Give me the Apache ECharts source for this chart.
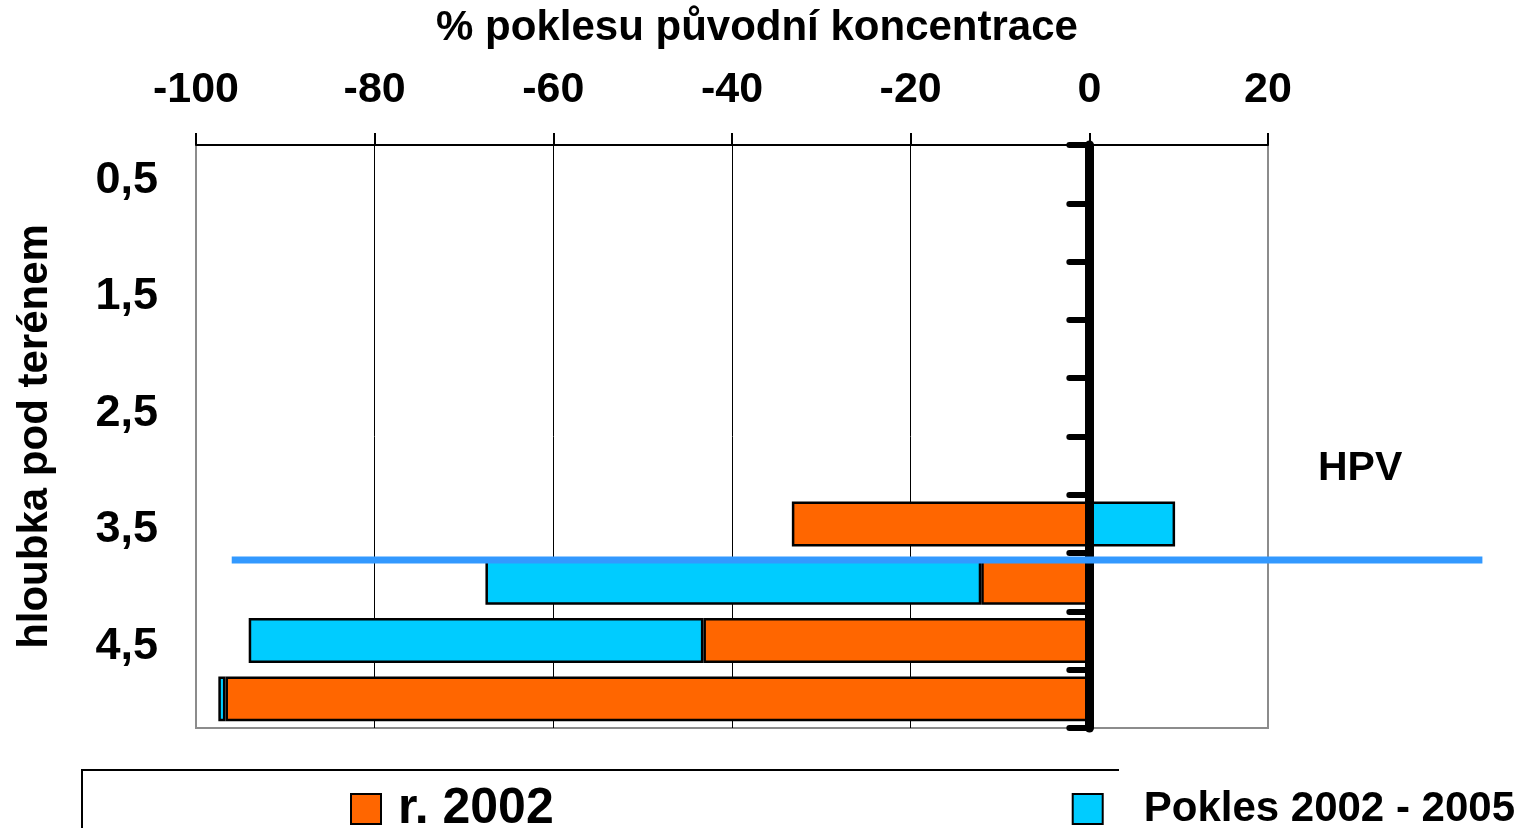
<!DOCTYPE html>
<html lang="cs">
<head>
    <meta charset="UTF-8">
    <title>Pokles koncentrace</title>
    <script src="https://cdn.jsdelivr.net/npm/echarts@6/dist/echarts.min.js"></script>
    <style>
        html, body { margin: 0; padding: 0; background: #fff; }
    </style>
</head>
<body>

<div id="main" style="width: 1532px;height:828px;"></div>
<script type="text/javascript">
    // hloubky (m) a hodnoty
    var depths = ['0,5', '1', '1,5', '2', '2,5', '3', '3,5', '4', '4,5', '5'];
    var r2002 = [null, null, null, null, null, null, -33.3, -12.1, -43.2, -96.7];
    var pokles = [null, null, null, null, null, null, 9.6, -55.5, -50.9, -0.8];
    var xMin = -100, xMax = 20, xStep = 20;
    // hladina podzemní vody
    var hpvDepth = 3.8, hpvFrom = -96, hpvTo = 44;

    var font = 'Liberation Sans, Arial, sans-serif';

    var option = {
        animation: false,
        grid: {
            left: 196, right: 264, top: 145, bottom: 100,
            show: true, borderColor: '#8c8c8c', borderWidth: 2
        },
        legend: {
            left: 345, top: 779,
            itemGap: 518,
            itemWidth: 30, itemHeight: 30,
            icon: 'rect',
            data: [
                {name: 'r. 2002', textStyle: {fontSize: 50, padding: [0, 0, 0, 12]}},
                {name: 'Pokles 2002 - 2005', textStyle: {fontSize: 42, padding: [0, 0, 0, 36]}}
            ],
            textStyle: {fontFamily: font, fontWeight: 'bold', color: '#000'}
        },
        xAxis: {
            type: 'value',
            position: 'top',
            min: xMin, max: xMax, interval: xStep,
            name: '% poklesu původní koncentrace',
            nameLocation: 'middle',
            nameGap: 96,
            nameTextStyle: {fontFamily: font, fontWeight: 'bold', fontSize: 42, color: '#000', padding: [0, 0, 0, 50]},
            axisLine: {show: true, onZero: false, lineStyle: {color: '#000', width: 2}},
            axisTick: {show: true, length: 12, lineStyle: {color: '#000', width: 2}},
            axisLabel: {fontFamily: font, fontWeight: 'bold', fontSize: 43, color: '#000', margin: 33},
            splitLine: {
                show: true,
                lineStyle: {color: ['#8c8c8c', '#000', '#000', '#000', '#000', '#000', '#8c8c8c'], width: 1}
            }
        },
        yAxis: [{
            type: 'category',
            inverse: true,
            data: depths,
            name: 'hloubka pod terénem',
            nameLocation: 'middle',
            nameGap: 140,
            nameTextStyle: {fontFamily: font, fontWeight: 'bold', fontSize: 42, color: '#000'},
            axisLine: {show: false, onZero: false},
            axisTick: {show: false},
            axisLabel: {
                interval: 1, color: '#000', margin: 38,
                formatter: '{d|{value}}',
                rich: {
                    d: {fontFamily: font, fontWeight: 'bold', fontSize: 45, color: '#000', padding: [12, 0, 0, 0]}
                }
            }
        }, {
            type: 'category',
            inverse: true,
            data: depths,
            position: 'left',
            z: 10,
            axisLine: {show: true, onZero: true, onZeroAxisIndex: 0, lineStyle: {color: '#000', width: 9}},
            axisTick: {show: true, interval: 0, length: 20, lineStyle: {color: '#000', width: 6, cap: 'round'}},
            axisLabel: {show: false},
            splitLine: {show: false}
        }],
        series: [{
            name: 'r. 2002',
            type: 'bar',
            stack: 'pokles',
            barCategoryGap: '23%',
            itemStyle: {color: '#ff6600', borderColor: '#000', borderWidth: 2.5},
            data: r2002
        }, {
            name: 'Pokles 2002 - 2005',
            type: 'bar',
            stack: 'pokles',
            barCategoryGap: '23%',
            itemStyle: {color: '#00ccff', borderColor: '#000', borderWidth: 2.5},
            data: pokles
        }]
    };

    var myChart = echarts.init(document.getElementById('main'));
    myChart.setOption(option);

    // čára HPV a rámeček legendy
    var yA = myChart.convertToPixel({yAxisIndex: 0}, '3,5');
    var yB = myChart.convertToPixel({yAxisIndex: 0}, '4');
    var hpvY = yA + (hpvDepth - 3.5) / 0.5 * (yB - yA);
    var x1 = myChart.convertToPixel({xAxisIndex: 0}, hpvFrom);
    var x2 = myChart.convertToPixel({xAxisIndex: 0}, hpvTo);

    myChart.setOption({
        graphic: [{
            type: 'line',
            z: 100,
            shape: {x1: x1, y1: hpvY + 1, x2: x2, y2: hpvY + 1},
            style: {stroke: '#3399ff', lineWidth: 7}
        }, {
            type: 'text',
            z: 100,
            left: 1318, top: 448,
            style: {text: 'HPV', font: 'bold 41px Liberation Sans, Arial, sans-serif', fill: '#000'}
        }, {
            type: 'polyline',
            z: 100,
            shape: {points: [[82, 840], [82, 770], [1119, 770]]},
            style: {stroke: '#000', lineWidth: 2, fill: null}
        }]
    });
</script>

</body>
</html>
